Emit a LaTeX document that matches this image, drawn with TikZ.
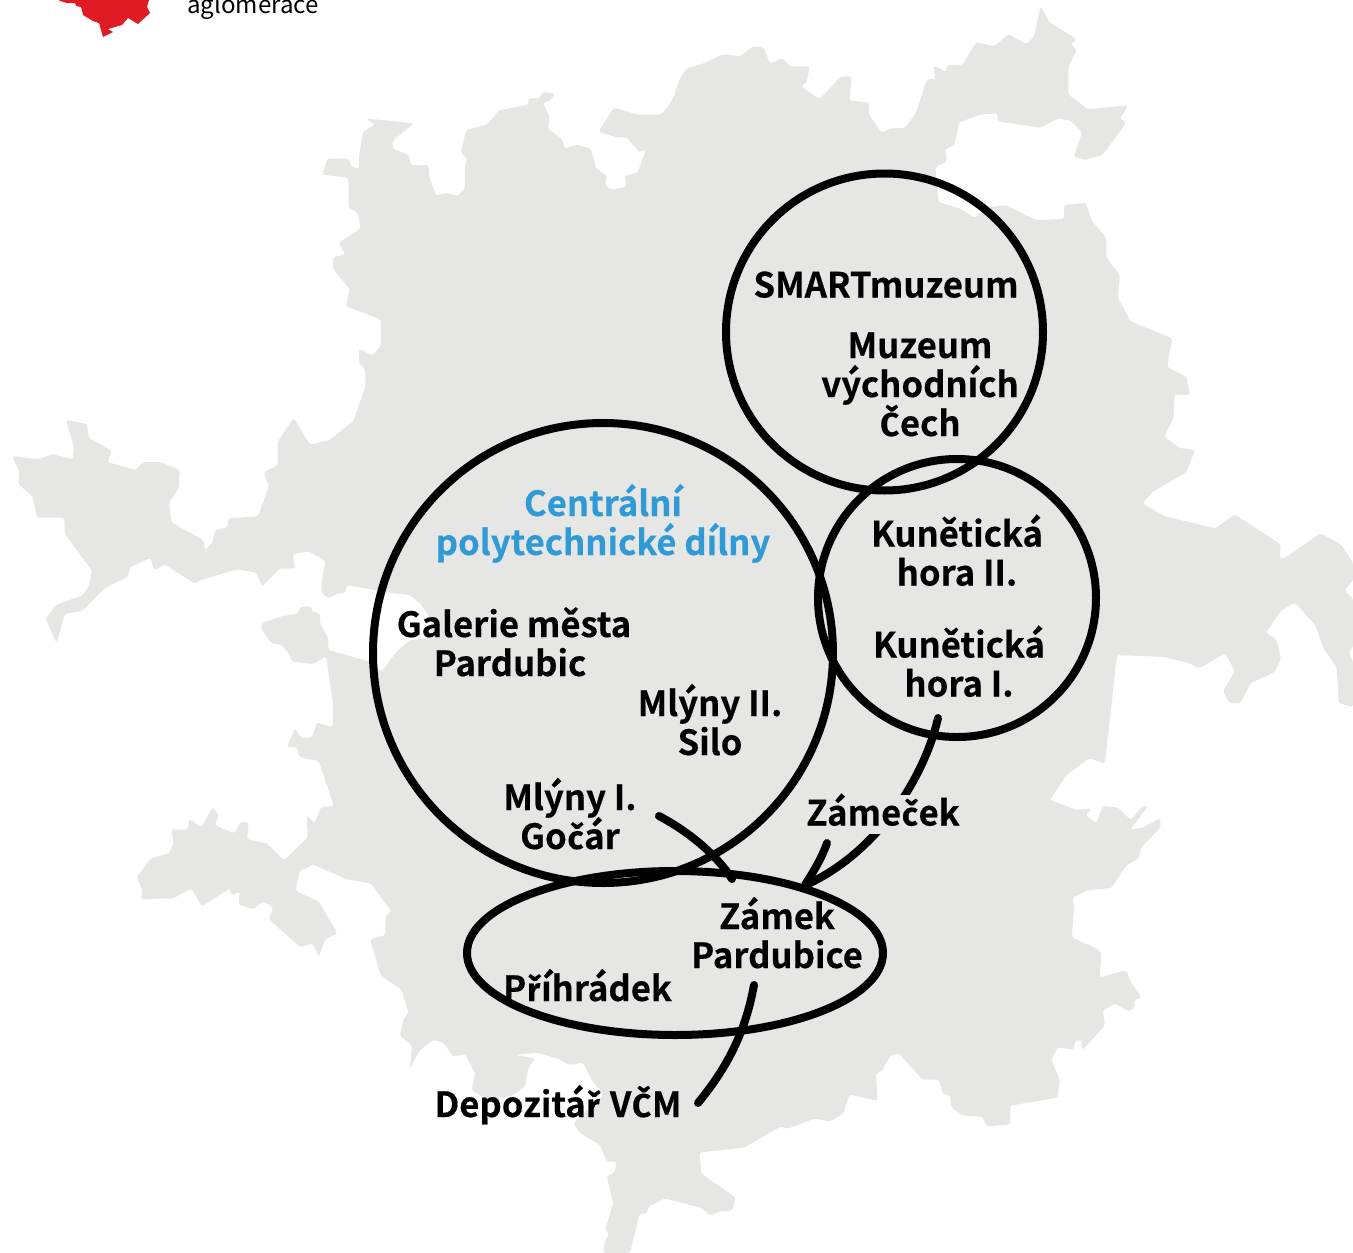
\documentclass[tikz,border=0pt]{standalone}
\usepackage{fontspec}
\setmainfont{Noto Sans CJK SC}
\newfontfamily\placefont{Noto Sans CJK SC Bold}[FakeBold=0.4]
\newfontfamily\fallbk{Fira Sans Bold}[Scale=0.95,FakeBold=0.2]
\newcommand{\cz}{\kern.8pt{\fallbk č}\kern.8pt}
\newcommand{\rz}{\kern.8pt{\fallbk ř}\kern.8pt}
\newcommand{\Cz}{\kern.8pt{\fallbk Č}\kern.8pt}
\definecolor{mapgray}{HTML}{E6E6E5}
\definecolor{labelblue}{HTML}{2F9AD6}
\definecolor{mapred}{HTML}{E01B24}
\tikzset{
  mapA/.style={x=.4337pt,y=-.4018pt},
  mapB/.style={xshift=680pt,x=.4292pt,y=-.4018pt},
  mapC/.style={yshift=-625pt,x=.4337pt,y=-.4005pt},
  mapD/.style={xshift=680pt,yshift=-625pt,x=.4292pt,y=-.4005pt},
  mapE/.style={xshift=400pt,yshift=-1030pt,x=.3333pt,y=-.3333pt},
  mapF/.style={xshift=250pt,yshift=-580pt,x=.3333pt,y=-.3333pt},
  ring/.style={draw=black,line width=8pt},
  link/.style={draw=black,line width=8pt,line cap=round},
  place/.style={font=\fontsize{34.7}{39}\selectfont\placefont,text=black,align=center,anchor=base,inner sep=0pt,execute at begin node={\lineskiplimit=-100pt}},
}
\begin{document}
\begin{tikzpicture}[x=1pt,y=-1pt]
\useasboundingbox (0,0) rectangle (1353,1253);
\clip (0,0) rectangle (1353,1253);
\fill[mapgray,rounded corners=2.5pt] {[mapA] (845,295) -- (955,307) -- (905,350) -- (905,370) -- (942,385) -- (948,411) -- (988,411) -- (990,440) -- (1005,487) -- (1030,480) -- (1055,488) -- (1072,470) -- (1072,410) -- (1078,395) -- (1062,380) -- (1075,323) -- (1123,310) -- (1150,275) -- (1218,260) -- (1218,245) -- (1245,245) -- (1250,229) -- (1280,232) -- (1270,250) -- (1252,255) -- (1268,295) -- (1263,320) -- (1295,345) -- (1302,370) -- (1330,360) -- (1362,370) -- (1375,420) -- (1400,437) -- (1395,460) -- (1410,473) -- (1445,465) -- (1440,437) -- (1470,430) -- (1490,370) -- (1475,380) -- (1445,342) -- (1420,342) -- (1380,327) -- (1415,268) -- (1470,285) -- (1525,285) -- (1550,250) -- (1568,195)}
{[mapB] -- (15,170) -- (50,160) -- (100,135) -- (140,140) -- (170,115) -- (195,118) -- (210,158) -- (240,145) -- (255,165) -- (302,165) -- (295,205) -- (282,215) -- (325,247) -- (375,190) -- (400,190) -- (395,250) -- (440,255) -- (440,285) -- (470,330) -- (490,320) -- (525,318) -- (550,280) -- (575,197) -- (595,197) -- (590,165) -- (605,170) -- (620,180) -- (622,162) -- (658,162) -- (690,105) -- (733,115) -- (765,85) -- (808,110) -- (825,90) -- (840,15) -- (860,55) -- (925,98) -- (910,110) -- (925,125) -- (905,165) -- (905,235) -- (950,272) -- (1045,262) -- (1025,295) -- (1040,305) -- (985,385) -- (945,398) -- (917,390) -- (937,330) -- (910,300) -- (880,295) -- (840,318) -- (740,302) -- (740,282) -- (700,285) -- (650,305) -- (640,360) -- (618,372) -- (622,403) -- (595,415) -- (602,503) -- (655,520) -- (688,543) -- (710,518) -- (757,510) -- (830,548) -- (895,545) -- (895,510) -- (945,505) -- (960,550) -- (993,592) -- (993,640) -- (1025,685) -- (1020,740) -- (1050,800) -- (1147,842) -- (1135,913) -- (1180,938) -- (1188,983) -- (1152,983) -- (1150,1040) -- (1128,1087) -- (1165,1115) -- (1200,1120) -- (1180,1175) -- (1100,1225) -- (1078,1253) -- (1130,1285) -- (1248,1315) -- (1292,1280) -- (1400,1355) -- (1397,1390) -- (1410,1388) -- (1492,1327) -- (1540,1355) -- (1568,1400) -- (1568,1445) -- (1548,1470) -- (1568,1490) -- (1568,1540)}
{[mapD] -- (1568,55) -- (1558,70) -- (1568,90) -- (1568,205) -- (1535,195) -- (1530,105) -- (1500,60) -- (1480,0)}
{[mapB] -- (1433,1500) -- (1400,1520)}
{[mapD] -- (1365,20) -- (1390,35) -- (1400,85) -- (1385,118) -- (1330,145) -- (1305,195) -- (1280,195) -- (1265,165) -- (1293,115) -- (1270,70) -- (1240,90) -- (1210,108) -- (1185,95) -- (1130,80) -- (1018,75) -- (990,347) -- (955,332) -- (900,375) -- (862,437) -- (925,462) -- (960,458) -- (945,475) -- (970,495) -- (985,452) -- (1020,455) -- (1050,487) -- (1075,455) -- (1092,450) -- (1048,512) -- (1080,505) -- (1118,482) -- (1120,505) -- (1075,555) -- (1068,583) -- (1040,600) -- (1005,657) -- (950,662) -- (915,680) -- (918,700) -- (913,780) -- (975,810) -- (982,820) -- (978,880) -- (1040,862) -- (1050,890) -- (1075,930) -- (1057,938) -- (1060,955) -- (1045,965) -- (1015,945) -- (985,962) -- (990,1000) -- (937,1062) -- (935,1035) -- (920,1040) -- (918,1060) -- (880,1055) -- (865,1085) -- (885,1135) -- (880,1180) -- (770,1200) -- (770,1247) -- (715,1252) -- (705,1228) -- (660,1225) -- (632,1205) -- (630,1175) -- (612,1170) -- (603,1135) -- (565,1135) -- (510,1070) -- (490,1075) -- (470,1115) -- (457,1118) -- (460,1188) -- (395,1172) -- (380,1220) -- (350,1240) -- (315,1232) -- (250,1258) -- (235,1252) -- (150,1305) -- (45,1317) -- (50,1370) -- (130,1430) -- (122,1462) -- (90,1465) -- (70,1475) -- (50,1455) -- (0,1442)}
{[mapE] -- (795,505) -- (745,530) -- (740,552) -- (720,550) -- (690,669) -- (612,669) -- (612,640) -- (628,610) -- (615,600) -- (640,520) -- (620,440) -- (645,425) -- (650,395) -- (620,395) -- (600,345) -- (540,310) -- (520,280) -- (610,195) -- (575,150) -- (550,98) -- (510,105) -- (470,85) -- (410,68) -- (345,75) -- (405,85) -- (385,115) -- (375,170) -- (340,195) -- (270,215) -- (215,180) -- (225,130) -- (195,72) -- (160,80) -- (130,38) -- (100,30) -- (60,60) -- (30,115)}
{[mapC] -- (950,1050) -- (922,1025) -- (930,985) -- (942,968) -- (925,910) -- (878,875) -- (853,785) -- (888,775) -- (890,725) -- (902,715) -- (855,645) -- (800,635) -- (722,598) -- (690,615) -- (682,665) -- (735,690) -- (778,770) -- (750,785) -- (735,828) -- (720,795) -- (693,805) -- (620,735) -- (630,705) -- (605,690) -- (585,710) -- (550,698) -- (553,665) -- (535,675) -- (530,658) -- (465,703) -- (442,658) -- (400,682) -- (325,685) -- (328,660) -- (315,630) -- (348,583) -- (390,570) -- (400,545) -- (395,510) -- (432,512) -- (437,485) -- (465,505) -- (490,455) -- (505,475) -- (495,500) -- (540,520) -- (555,492) -- (573,492) -- (570,535) -- (615,545) -- (655,588) -- (710,530) -- (707,475) -- (725,495) -- (740,455) -- (770,452) -- (735,340) -- (690,330) -- (685,305) -- (662,305) -- (680,258) -- (695,283) -- (720,280) -- (730,243) -- (767,255) -- (768,200) -- (752,78)}
{[mapF] -- (190,252) -- (125,245) -- (120,225) -- (95,195) -- (65,190) -- (35,150) -- (35,130) -- (90,110) -- (145,100) -- (150,80) -- (185,80) -- (185,95) -- (210,100) -- (210,130) -- (235,175) -- (235,210) -- (360,245) -- (395,275) -- (440,215) -- (480,180) -- (540,175) -- (545,120) -- (510,70) -- (480,45) -- (430,40) -- (290,15) -- (285,40) -- (265,40) -- (235,55) -- (215,40) -- (215,5)}
{[mapA] -- (750,1395) -- (710,1372) -- (675,1380) -- (680,1415) -- (645,1415) -- (605,1460) -- (590,1425) -- (545,1417) -- (460,1445) -- (450,1453) -- (380,1405) -- (355,1420) -- (347,1388) -- (300,1412) -- (295,1435) -- (240,1465) -- (190,1520) -- (150,1528) -- (130,1600) -- (105,1540) -- (130,1505) -- (190,1482) -- (205,1460) -- (212,1420) -- (150,1330) -- (148,1288) -- (85,1288) -- (75,1235) -- (42,1205) -- (45,1175) -- (28,1135) -- (90,1143) -- (122,1130) -- (168,1143) -- (170,1110) -- (152,1045) -- (200,1055) -- (205,1090) -- (258,1122) -- (248,1150) -- (313,1170) -- (330,1150) -- (370,1150) -- (415,1170) -- (412,1215) -- (390,1250) -- (395,1300) -- (470,1345) -- (472,1370) -- (490,1350) -- (495,1320) -- (525,1312) -- (527,1290) -- (595,1285) -- (620,1210) -- (608,1175) -- (640,1158) -- (640,1100) -- (677,1040) -- (715,1107) -- (760,1095) -- (815,1048) -- (843,960) -- (842,918) -- (828,905) -- (828,868) -- (860,885) -- (878,860) -- (878,795) -- (797,762) -- (807,720) -- (768,670) -- (768,640) -- (797,633) -- (780,605) -- (832,568) -- (825,530) -- (803,517) -- (803,442) -- (743,435) -- (755,395) -- (805,395) -- (810,415) -- (828,420) -- (828,390) -- (837,328) -- (865,310)} -- cycle;
\fill[mapred] (59,0) -- (60,1) -- (67,3) -- (75,3) -- (76,6) -- (81,7) -- (83,15) -- (93,21) -- (99,23) -- (101,30) -- (103,37) -- (113,32) -- (108,29) -- (122,25) -- (128,18) -- (138,24) -- (150,13) -- (147,7) -- (149,0) -- cycle;
\node[anchor=base west,inner sep=0pt,font=\fontsize{24.1}{26}\selectfont] (aglo) at (187,13) {aglomerace};
\draw[ring] (603,653) circle[radius=230];
\draw[ring] (884.5,332) circle[radius=158.5];
\draw[ring] (957,598) circle[radius=139];
\draw[ring] (675,953) ellipse[x radius=208,y radius=82];
\coordinate (fromHora) at (938,718);
\coordinate (intoZamek) at (808,884);
\coordinate (fromZamecek) at (827,843);
\coordinate (intoZamekB) at (805,885);
\coordinate (fromMlyny) at (659,816);
\coordinate (intoZamekC) at (732,879);
\coordinate (fromZamek) at (754,985);
\coordinate (toDepo) at (698,1103);
\draw[link] (fromHora) .. controls (925,775) and (880,850) .. (intoZamek);
\draw[link] (fromZamecek) .. controls (821,860) and (813,872) .. (intoZamekB);
\draw[link] (fromMlyny) .. controls (695,835) and (720,860) .. (intoZamekC);
\draw[link] (fromZamek) .. controls (745,1035) and (725,1070) .. (toDepo);
\node[place,text=labelblue] (cpd) at (603,555) {Centrální\\polytechnické dílny};
\node[place] (smart) at (886,297.5) {SMARTmuzeum};
\node[place] (mvc) at (920,436) {Muzeum\\východních\\\Cz ech};
\node[place] (kh2) at (957,585.5) {Kunětická\\hora II.};
\node[place] (kh1) at (959,696.5) {Kunětická\\hora I.};
\node[place] (gmp) at (514,676) {Galerie města\\Pardubic\hspace*{8pt}};
\node[place] (silo) at (710,755) {Mlýny II.\\Silo};
\node[place] (gocar) at (570,849) {Mlýny I.\\Go\cz ár};
\node[place,fill=mapgray,text height=30.5pt,text depth=8pt] (zamecek) at (883,825.5) {Záme\cz ek};
\node[place] (zamek) at (777,968) {Zámek\\Pardubice};
\node[place] (prihradek) at (587.5,1001) {P\rz íhrádek};
\node[place] (depo) at (558,1117) {Depozitá\rz{}\kern1.5pt{} V\Cz M};
\end{tikzpicture}
\end{document}
